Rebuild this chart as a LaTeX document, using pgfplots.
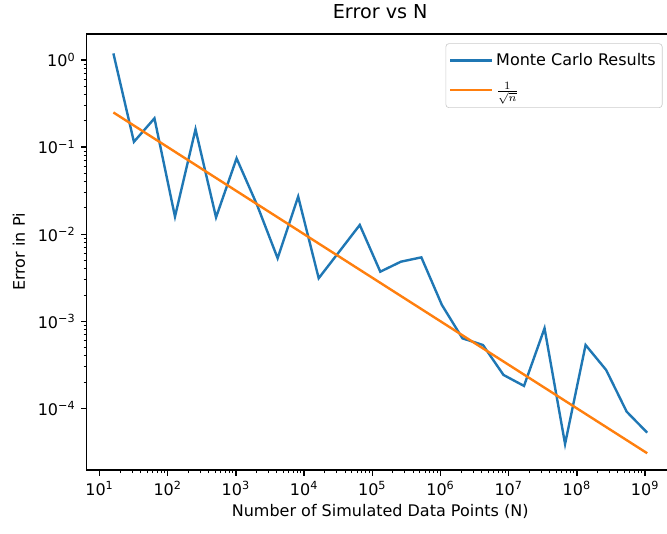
\documentclass[border=0pt]{standalone}
\usepackage{fontspec}
\setmainfont{DejaVu Sans}
\usepackage{pgfplots}
\pgfplotsset{compat=1.18}
\definecolor{mplblue}{HTML}{1F77B4}
\definecolor{mplorange}{HTML}{FF7F0E}

\begin{document}
\begin{tikzpicture}
\begin{axis}[
  name=ax,
  xmode=log, ymode=log,
  scale only axis, width=366.9pt, height=272.5pt,
  xmin=6.5, xmax=2.63e9, ymin=1.96e-5, ymax=1.99,
  axis line style={line width=0.8pt},
  tick pos=left, tick align=outside,
  major tick length=3.5pt, minor tick length=2pt,
  major tick style={black, line width=0.8pt},
  minor tick style={black, line width=0.6pt},
  xtick={1e1,1e2,1e3,1e4,1e5,1e6,1e7,1e8,1e9},
  xticklabels={10\textsuperscript{1},10\textsuperscript{2},10\textsuperscript{3},
    10\textsuperscript{4},10\textsuperscript{5},10\textsuperscript{6},
    10\textsuperscript{7},10\textsuperscript{8},10\textsuperscript{9}},
  ytick={1e-4,1e-3,1e-2,1e-1,1},
  yticklabels={10\textsuperscript{−4},10\textsuperscript{−3},10\textsuperscript{−2},
    10\textsuperscript{−1},10\textsuperscript{0}},
  title={Error vs N},
  title style={at={(axis description cs:0.5,1.014)}, anchor=base,
    font=\fontsize{12}{14}\selectfont},
  xlabel={Number of Simulated Data Points (N)},
  xlabel style={at={(axis description cs:0.5,-0.0954)}, anchor=center},
  ylabel={Error in Pi},
  ylabel style={at={(axis description cs:-0.1153,0.5)}, anchor=center},
  legend cell align=left,
  legend image code/.code={\draw[#1] (0pt,0pt) -- (21pt,0pt); \path (21pt,0pt) -- (26pt,0pt);},
  legend style={at={(1,1)}, anchor=north east, xshift=-7pt, yshift=-5.8pt,
    draw=black!20, rounded corners=2pt, fill=white, fill opacity=0.8,
    text opacity=1, inner xsep=2pt, inner ysep=4pt, row sep=5pt},
]
% measured error, N = 2^4 ... 2^30
\addplot[mplblue, line width=1.5pt] coordinates {
  (16,1.19)(32,0.115)(64,0.214)(128,0.0159)(256,0.160)(512,0.0156)
  (1024,0.0743)(2048,0.0216)(4096,0.00529)(8192,0.0270)(16384,0.00312)
  (32768,0.0063)(65536,0.01276)(131072,0.00371)(262144,0.00483)
  (524288,0.00542)(1048576,0.00154)(2097152,0.000637)(4194304,0.000534)
  (8388608,0.000242)(16777216,0.000181)(33554432,0.000831)
  (67108864,3.9e-5)(134217728,0.000534)(268435456,0.000276)
  (536870912,9.16e-5)(1.073741824e9,5.26e-5)
};
\addlegendentry{Monte Carlo Results}
% reference line 1/sqrt(n)
\addplot[mplorange, line width=1.5pt] coordinates {
  (16,0.25)(32,0.17678)(64,0.125)(128,0.088388)(256,0.0625)(512,0.044194)
  (1024,0.03125)(2048,0.022097)(4096,0.015625)(8192,0.011049)(16384,0.0078125)
  (32768,0.0055243)(65536,0.00390625)(131072,0.0027621)(262144,0.0019531)
  (524288,0.0013811)(1048576,0.00097656)(2097152,0.00069053)(4194304,0.00048828)
  (8388608,0.00034527)(16777216,0.00024414)(33554432,0.00017263)
  (67108864,0.00012207)(134217728,8.6317e-5)(268435456,6.1035e-5)
  (536870912,4.3158e-5)(1.073741824e9,3.0518e-5)
};
\addlegendentry{$\frac{1}{\sqrt{n}}$}
\end{axis}
\pgfresetboundingbox
\path[use as bounding box] ([xshift=-54.2pt,yshift=-39.4pt]ax.south west)
  rectangle ([xshift=362.7pt,yshift=293.75pt]ax.south west);
\end{tikzpicture}
\end{document}
